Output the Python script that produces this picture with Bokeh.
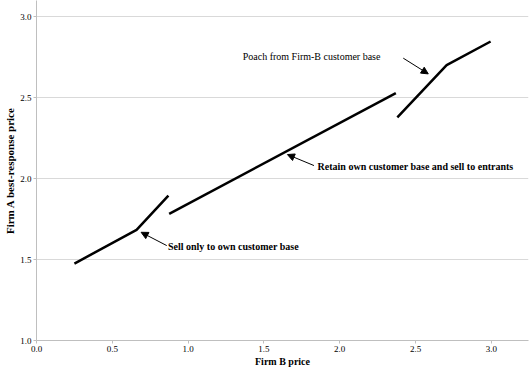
from bokeh.plotting import figure
from bokeh.models import Range1d, Arrow, NormalHead, Label, FixedTicker, PrintfTickFormatter
from bokeh.embed import file_html
from bokeh.resources import INLINE

# Data: three segments of Firm A's best-response function
seg1_x = [0.25, 0.66, 0.87]
seg1_y = [1.475, 1.683, 1.895]
seg2_x = [0.875, 2.37]
seg2_y = [1.782, 2.527]
seg3_x = [2.38, 2.705, 2.995]
seg3_y = [2.378, 2.70, 2.846]

x_ticks = [0.0, 0.5, 1.0, 1.5, 2.0, 2.5, 3.0]
y_ticks = [1.0, 1.5, 2.0, 2.5, 3.0]

x_title = "Firm B price"
y_title = "Firm A best-response price"

ann_texts = ["Sell only to own customer base",
             "Retain own customer base and sell to entrants",
             "Poach from Firm-B customer base"]
ann_text_x = [0.867, 1.854, 1.36]
ann_text_y = [1.58, 2.074, 2.753]
ann_bold = [True, True, False]
arrow_tail_x = [0.859, 1.83, 2.419]
arrow_tail_y = [1.586, 2.08, 2.743]
arrow_head_x = [0.69, 1.655, 2.584]
arrow_head_y = [1.668, 2.148, 2.646]

FONT = "Liberation Serif"

p = figure(width=529, height=373, output_backend="svg", toolbar_location=None,
           x_range=Range1d(0, 3.245), y_range=Range1d(1.0, 3.099),
           min_border_left=36, min_border_right=1, min_border_top=0, min_border_bottom=33)
p.outline_line_color = None
p.background_fill_color = "white"

for xs, ys in [(seg1_x, seg1_y), (seg2_x, seg2_y), (seg3_x, seg3_y)]:
    p.line(x=xs, y=ys, line_color="black", line_width=2.5)

# axes
p.xaxis.ticker = FixedTicker(ticks=x_ticks)
p.yaxis.ticker = FixedTicker(ticks=y_ticks)
for ax in (p.xaxis[0], p.yaxis[0]):
    ax.formatter = PrintfTickFormatter(format="%.1f")
    ax.axis_line_color = "#bfbfbf"
    ax.major_tick_line_color = "#bfbfbf"
    ax.minor_tick_line_color = None
    ax.major_tick_out = 3
    ax.major_tick_in = 0
    ax.major_label_text_font = FONT
    ax.major_label_text_font_size = "9px"
    ax.major_label_text_color = "black"
    ax.major_label_standoff = 2
    ax.axis_label_text_font = FONT
    ax.axis_label_text_font_style = "bold"
    ax.axis_label_text_color = "black"
    ax.axis_label_standoff = 1
p.xaxis.axis_label = x_title
p.yaxis.axis_label = y_title
p.xaxis.axis_label_text_font_size = "10px"
p.yaxis.axis_label_text_font_size = "11px"

p.xgrid.grid_line_color = None
p.ygrid.ticker = FixedTicker(ticks=y_ticks)
p.ygrid.grid_line_color = "#d9d9d9"
p.ygrid.grid_line_width = 1

for i in range(3):
    p.add_layout(Arrow(end=NormalHead(size=7, fill_color="black", line_color="black", line_width=1),
                       x_start=arrow_tail_x[i], y_start=arrow_tail_y[i],
                       x_end=arrow_head_x[i], y_end=arrow_head_y[i],
                       line_color="black", line_width=1))
    p.add_layout(Label(x=ann_text_x[i], y=ann_text_y[i], text=ann_texts[i],
                       text_font=FONT, text_font_size="10px",
                       text_font_style="bold" if ann_bold[i] else "normal",
                       text_baseline="middle", text_align="left", text_color="black"))

open("out.html", "w").write(file_html(p, INLINE))
